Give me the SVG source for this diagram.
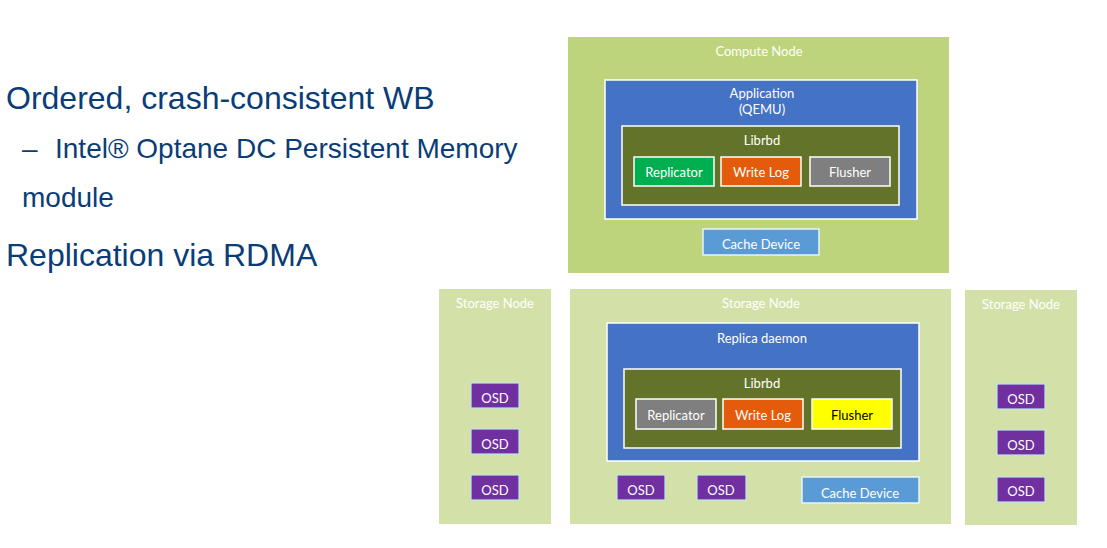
<svg xmlns="http://www.w3.org/2000/svg" width="1107" height="548" viewBox="0 0 1107 548">
<style>
.bul{font-family:"Liberation Sans",Arial,sans-serif;fill:#0A3D78}
.t{font-family:Lato,"Open Sans",sans-serif;font-size:13px;fill:#FFFFFF;text-anchor:middle}
.dk{fill:#000000}
.cn{fill:#BED47C}
.sn{fill:#D3E1A8}
.app{fill:#4472C4;stroke:#FFFFFF;stroke-width:1.5}
.lib{fill:#63742A;stroke:#FFFFFF;stroke-width:1.5}
.rep{fill:#00B050;stroke:#FFFFFF;stroke-width:1.5}
.wl{fill:#E35B0B;stroke:#FFFFFF;stroke-width:1.5}
.gr{fill:#7F7F7F;stroke:#FFFFFF;stroke-width:1.5}
.yl{fill:#FFFF00;stroke:#FFFFFF;stroke-width:1.5}
.cd{fill:#5B9BD5;stroke:#E8F2FA;stroke-width:1.5}
.osd{fill:#7030A0;stroke:#BFE3EE;stroke-width:1.2}
</style>
<rect width="1107" height="548" fill="#FFFFFF"/>
<g id="bullets">
<text class="bul" x="6" y="109" font-size="32">Ordered, crash-consistent WB</text>
<text class="bul" x="22" y="158" font-size="28">–</text>
<text class="bul" x="55" y="158" font-size="28">Intel® Optane DC Persistent Memory</text>
<text class="bul" x="22" y="207" font-size="28">module</text>
<text class="bul" x="6" y="266" font-size="32">Replication via RDMA</text>
</g>
<g id="connectors"></g>
<g id="compute-node">
<rect class="cn" x="568" y="37" width="381" height="236"/>
<text class="t" x="759" y="56">Compute Node</text>
<g id="application">
<rect class="app" x="605" y="80" width="312" height="139"/>
<text class="t" x="762" y="97.5">Application</text>
<text class="t" x="762" y="113.5">(QEMU)</text>
</g>
<g id="librbd-compute">
<rect class="lib" x="622" y="126" width="277" height="79"/>
<text class="t" x="762" y="144.5">Librbd</text>
</g>
<g id="replicator-compute">
<rect class="rep" x="634" y="157" width="80" height="29"/>
<text class="t" x="674" y="176.5">Replicator</text>
</g>
<g id="writelog-compute">
<rect class="wl" x="721" y="157" width="80" height="29"/>
<text class="t" x="761" y="176.5">Write Log</text>
</g>
<g id="flusher-compute">
<rect class="gr" x="810" y="157" width="80" height="29"/>
<text class="t" x="850" y="176.5">Flusher</text>
</g>
<g id="cache-compute">
<rect class="cd" x="703" y="229" width="116" height="26"/>
<text class="t" x="761" y="248.5">Cache Device</text>
</g>
</g>
<g id="storage-left">
<rect class="sn" x="439" y="289" width="112" height="235"/>
<text class="t" x="495" y="308">Storage Node</text>
<rect class="osd" x="471" y="383" width="48" height="25"/>
<text class="t" x="495" y="402.5">OSD</text>
<rect class="osd" x="471" y="429" width="48" height="25"/>
<text class="t" x="495" y="448.5">OSD</text>
<rect class="osd" x="471" y="475" width="48" height="25"/>
<text class="t" x="495" y="494.5">OSD</text>
</g>
<g id="storage-middle">
<rect class="sn" x="570" y="289" width="381" height="235"/>
<text class="t" x="761" y="307.5">Storage Node</text>
<g id="replica-daemon">
<rect class="app" x="607" y="323" width="312" height="138"/>
<text class="t" x="762" y="342.5">Replica daemon</text>
</g>
<g id="librbd-storage">
<rect class="lib" x="624" y="369" width="277" height="79"/>
<text class="t" x="762" y="387.5">Librbd</text>
</g>
<g id="replicator-storage">
<rect class="gr" x="636" y="399" width="80" height="30"/>
<text class="t" x="676" y="419.5">Replicator</text>
</g>
<g id="writelog-storage">
<rect class="wl" x="723" y="399" width="80" height="30"/>
<text class="t" x="763" y="419.5">Write Log</text>
</g>
<g id="flusher-storage">
<rect class="yl" x="812" y="399" width="80" height="30"/>
<text class="t dk" x="852" y="419.5">Flusher</text>
</g>
<g id="osd-m1">
<rect class="osd" x="617" y="475" width="48" height="25"/>
<text class="t" x="641" y="494.5">OSD</text>
</g>
<g id="osd-m2">
<rect class="osd" x="697" y="475" width="49" height="25"/>
<text class="t" x="721" y="494.5">OSD</text>
</g>
<g id="cache-storage">
<rect class="cd" x="802" y="477" width="117" height="26"/>
<text class="t" x="860" y="497.5">Cache Device</text>
</g>
</g>
<g id="storage-right">
<rect class="sn" x="965" y="290" width="112" height="235"/>
<text class="t" x="1021" y="309">Storage Node</text>
<rect class="osd" x="997" y="384" width="48" height="25"/>
<text class="t" x="1021" y="403.5">OSD</text>
<rect class="osd" x="997" y="430" width="48" height="25"/>
<text class="t" x="1021" y="449.5">OSD</text>
<rect class="osd" x="997" y="477" width="48" height="25"/>
<text class="t" x="1021" y="495.5">OSD</text>
</g>
</svg>
